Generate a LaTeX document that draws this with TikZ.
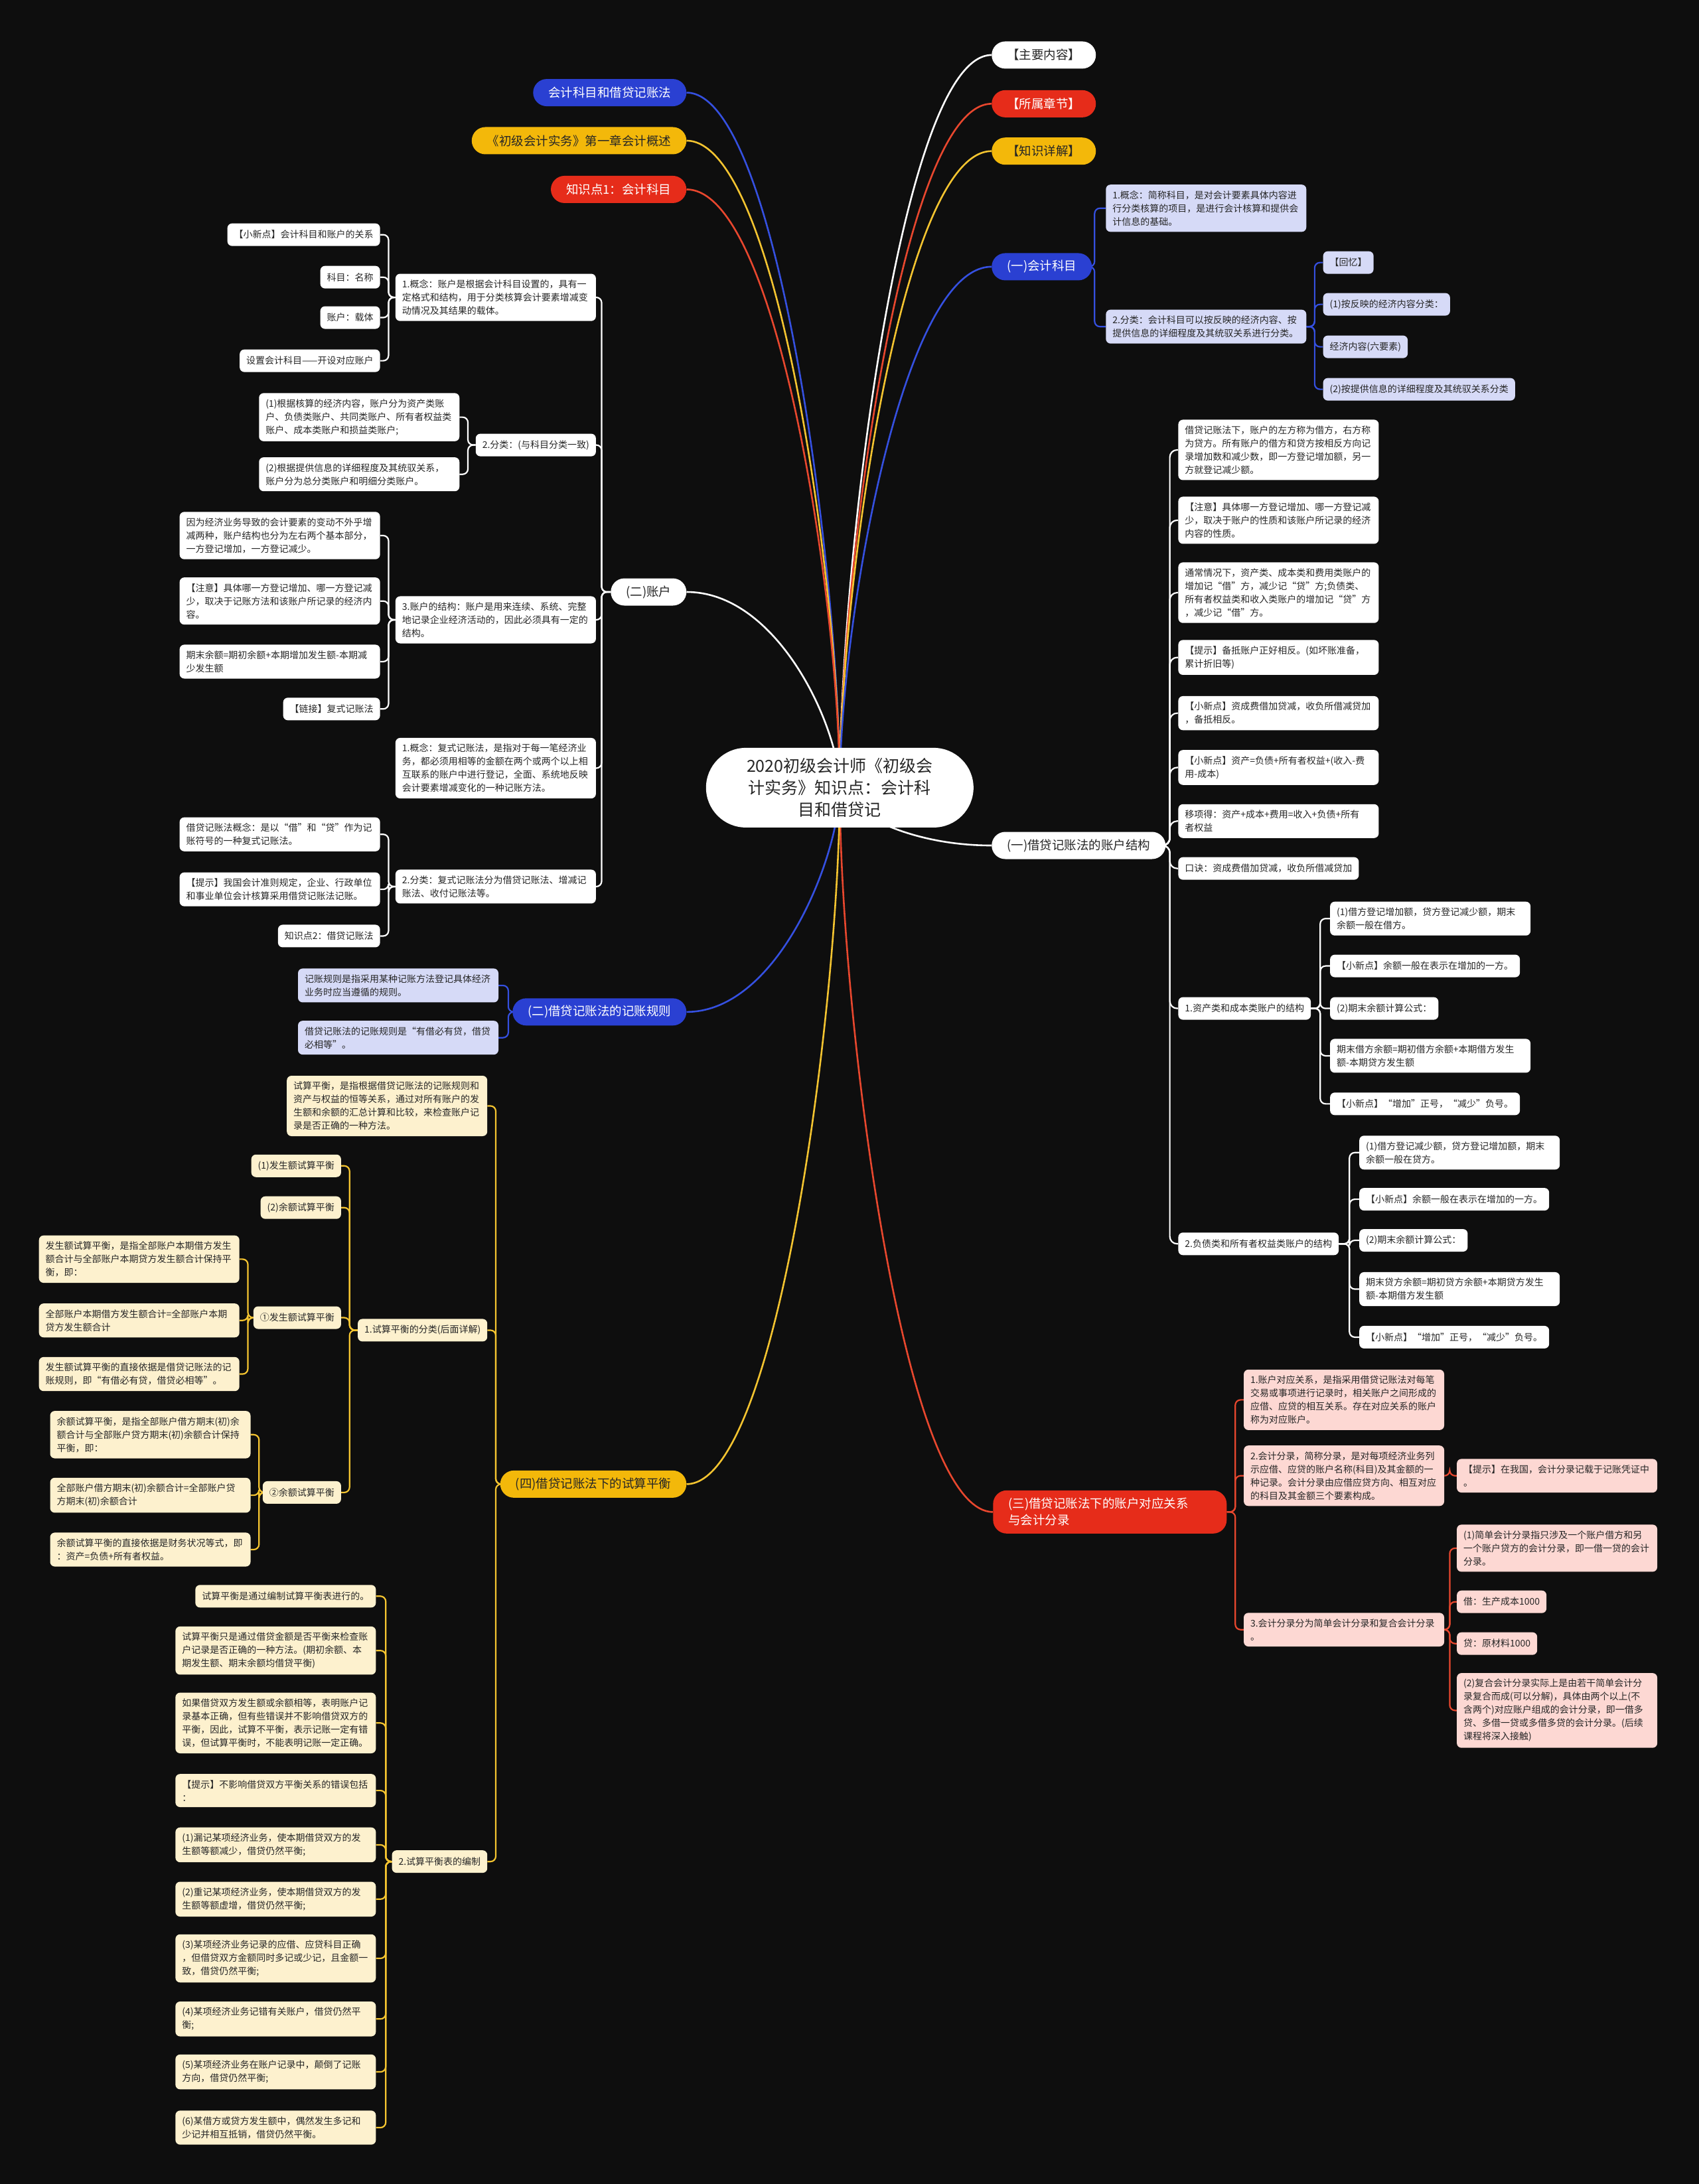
\documentclass[tikz,border=0pt]{standalone}
\usepackage{fontspec}
\setmainfont{Noto Sans CJK SC}
\usetikzlibrary{calc}
\pgfdeclarelayer{background}
\pgfsetlayers{background,main}
\definecolor{bgc}{HTML}{0E0E0E}
\definecolor{txt}{HTML}{262626}
\definecolor{lav}{HTML}{D6DAF7}
\definecolor{pinkf}{HTML}{FDD8D3}
\definecolor{cream}{HTML}{FDF1CE}
\definecolor{bluep}{HTML}{2A40D2}
\definecolor{redp}{HTML}{E62C1A}
\definecolor{yelp}{HTML}{F3B80A}
\definecolor{bluel}{HTML}{3550E0}
\definecolor{redl}{HTML}{E8472E}
\definecolor{yell}{HTML}{F4C430}
\newcommand\mlink[2]{\draw[mline,#1] (C.center) .. controls ($(C.center)!0.3!(C.center|-#2)$) and ($(#2)!0.6!(C.center|-#2)$) .. (#2);}
\newcommand\linkR[4]{\draw[cline,#1] (#2.east) -- (#2.east -| #3) |- (#4.west);}
\newcommand\linkL[4]{\draw[cline,#1] (#2.west) -- (#2.west -| #3) |- (#4.east);}
\tikzset{
  nbox/.style={font=\fontsize{14}{20}\selectfont, text=txt, rounded corners=7pt, inner xsep=10pt, inner ysep=9pt, minimum height=34pt, align=left},
  wb/.style={nbox, fill=white},
  lb/.style={nbox, fill=lav},
  pb/.style={nbox, fill=pinkf},
  yb/.style={nbox, fill=cream},
  tw/.style={text width=282pt},
  pill/.style={font=\fontsize{18.5}{25}\selectfont, rounded corners=20.5pt, minimum height=41pt, inner xsep=23pt, inner ysep=3pt, align=left},
  ae/.style={anchor=east},
  aw/.style={anchor=west},
  mline/.style={line width=2.6pt},
  cline/.style={line width=2.2pt, rounded corners=8pt},
  rootnode/.style={fill=white, text=txt, font=\fontsize{25}{33}\selectfont, align=center, minimum width=403pt, minimum height=120pt, rounded corners=60pt},
}
\begin{document}
\begin{tikzpicture}[x=2.09836pt, y=-2.09885pt]
\useasboundingbox (0,0) rectangle (1220,1568);
% root
\node[rootnode] (C) at (603,565.5) {2020初级会计师《初级会\\计实务》知识点：会计科\\目和借贷记};
% main branches
\node[pill, ae, fill=bluep, text=white] (B1) at (493,66.5) {会计科目和借贷记账法};
\node[pill, ae, fill=yelp, text=txt] (B2) at (493,101) {《初级会计实务》第一章会计概述};
\node[pill, ae, fill=redp, text=white] (B3) at (493,136) {知识点1：会计科目};
\node[pill, aw, fill=white, text=txt] (R1) at (712,39.5) {【主要内容】};
\node[pill, aw, fill=redp, text=white] (R2) at (712,74.5) {【所属章节】};
\node[pill, aw, fill=yelp, text=txt] (R3) at (712,108.5) {【知识详解】};
\node[pill, aw, fill=bluep, text=white] (R4) at (712,191.5) {(一)会计科目};
\node[pill, aw, fill=white, text=txt] (R5) at (712,607) {(一)借贷记账法的账户结构};
\node[pill, aw, fill=redp, text=white, text width=306pt, minimum height=65pt] (R6) at (713,1085.5) {(三)借贷记账法下的账户对应关系\\与会计分录};
\node[pill, ae, fill=white, text=txt] (L1) at (493,425) {(二)账户};
\node[pill, ae, fill=bluep, text=white] (L2) at (493,726.5) {(二)借贷记账法的记账规则};
\node[pill, ae, fill=yelp, text=txt] (L3) at (493,1065.5) {(四)借贷记账法下的试算平衡};
% bars
\coordinate (xR4) at (786,0);
\coordinate (xR4b) at (944,0);
\coordinate (xR5) at (840,0);
\coordinate (xR5i) at (948,0);
\coordinate (xR5j) at (969,0);
\coordinate (xR6) at (887,0);
\coordinate (xR6b) at (1041,0);
\coordinate (xL1) at (432,0);
\coordinate (xL1a) at (279,0);
\coordinate (xL1b) at (336,0);
\coordinate (xL2) at (365,0);
\coordinate (xL3) at (356,0);
\coordinate (xL3b) at (251,0);
\coordinate (xX) at (178,0);
\coordinate (xY) at (186,0);
\coordinate (xL3c) at (277,0);
% R4
\node[lb, tw, aw] (r4a) at (794,149.5) {1.概念：简称科目，是对会计要素具体内容进\\行分类核算的项目，是进行会计核算和提供会\\计信息的基础。};
\node[lb, tw, aw] (r4b) at (794,234.5) {2.分类：会计科目可以按反映的经济内容、按\\提供信息的详细程度及其统驭关系进行分类。};
\node[lb, aw] (r4b1) at (950,188.5) {【回忆】};
\node[lb, aw] (r4b2) at (950,218.5) {(1)按反映的经济内容分类：};
\node[lb, aw] (r4b3) at (950,249) {经济内容(六要素)};
\node[lb, aw] (r4b4) at (950,279.5) {(2)按提供信息的详细程度及其统驭关系分类};
% R5
\node[wb, tw, aw] (r5a) at (846,323) {借贷记账法下，账户的左方称为借方，右方称\\为贷方。所有账户的借方和贷方按相反方向记\\录增加数和减少数，即一方登记增加额，另一\\方就登记减少额。};
\node[wb, tw, aw] (r5b) at (846,373.5) {【注意】具体哪一方登记增加、哪一方登记减\\少，取决于账户的性质和该账户所记录的经济\\内容的性质。};
\node[wb, tw, aw] (r5c) at (846,425.5) {通常情况下，资产类、成本类和费用类账户的\\增加记“借”方，减少记“贷”方;负债类、\\所有者权益类和收入类账户的增加记“贷”方\\，减少记“借”方。};
\node[wb, tw, aw] (r5d) at (846,472) {【提示】备抵账户正好相反。(如坏账准备，\\累计折旧等)};
\node[wb, tw, aw] (r5e) at (846,512) {【小新点】资成费借加贷减，收负所借减贷加\\，备抵相反。};
\node[wb, tw, aw] (r5f) at (846,551) {【小新点】资产=负债+所有者权益+(收入-费\\用-成本)};
\node[wb, tw, aw] (r5g) at (846,589.5) {移项得：资产+成本+费用=收入+负债+所有\\者权益};
\node[wb, aw] (r5h) at (846,623.5) {口诀：资成费借加贷减，收负所借减贷加};
\node[wb, aw] (r5i) at (846,724) {1.资产类和成本类账户的结构};
\node[wb, aw] (r5j) at (846,893) {2.负债类和所有者权益类账户的结构};
\node[wb, tw, aw] (r5i1) at (955,659.5) {(1)借方登记增加额，贷方登记减少额，期末\\余额一般在借方。};
\node[wb, aw] (r5i2) at (955,693.5) {【小新点】余额一般在表示在增加的一方。};
\node[wb, aw] (r5i3) at (955,724) {(2)期末余额计算公式：};
\node[wb, tw, aw] (r5i4) at (955,758) {期末借方余额=期初借方余额+本期借方发生\\额-本期贷方发生额};
\node[wb, aw] (r5i5) at (955,792.5) {【小新点】“增加”正号，“减少”负号。};
\node[wb, tw, aw] (r5j1) at (976,827.5) {(1)借方登记减少额，贷方登记增加额，期末\\余额一般在贷方。};
\node[wb, aw] (r5j2) at (976,861) {【小新点】余额一般在表示在增加的一方。};
\node[wb, aw] (r5j3) at (976,890.5) {(2)期末余额计算公式：};
\node[wb, tw, aw] (r5j4) at (976,925.5) {期末贷方余额=期初贷方余额+本期贷方发生\\额-本期借方发生额};
\node[wb, aw] (r5j5) at (976,960) {【小新点】“增加”正号，“减少”负号。};
% R6
\node[pb, tw, aw] (r6a) at (893,1005) {1.账户对应关系，是指采用借贷记账法对每笔\\交易或事项进行记录时，相关账户之间形成的\\应借、应贷的相互关系。存在对应关系的账户\\称为对应账户。};
\node[pb, tw, aw] (r6b) at (893,1059.5) {2.会计分录，简称分录，是对每项经济业务列\\示应借、应贷的账户名称(科目)及其金额的一\\种记录。会计分录由应借应贷方向、相互对应\\的科目及其金额三个要素构成。};
\node[pb, tw, aw] (r6b1) at (1046,1059.5) {【提示】在我国，会计分录记载于记账凭证中\\。};
\node[pb, tw, aw] (r6c) at (893,1170) {3.会计分录分为简单会计分录和复合会计分录\\。};
\node[pb, tw, aw] (r6c1) at (1046,1111.5) {(1)简单会计分录指只涉及一个账户借方和另\\一个账户贷方的会计分录，即一借一贷的会计\\分录。};
\node[pb, aw] (r6c2) at (1046,1150) {借：生产成本1000};
\node[pb, aw] (r6c3) at (1046,1180) {贷：原材料1000};
\node[pb, tw, aw] (r6c4) at (1046,1228) {(2)复合会计分录实际上是由若干简单会计分\\录复合而成(可以分解)，具体由两个以上(不\\含两个)对应账户组成的会计分录，即一借多\\贷、多借一贷或多借多贷的会计分录。(后续\\课程将深入接触)};
% L1
\node[wb, tw, ae] (l1a) at (428,213.5) {1.概念：账户是根据会计科目设置的，具有一\\定格式和结构，用于分类核算会计要素增减变\\动情况及其结果的载体。};
\node[wb, ae] (l1b) at (428,319.5) {2.分类：(与科目分类一致)};
\node[wb, tw, ae] (l1c) at (428,445) {3.账户的结构：账户是用来连续、系统、完整\\地记录企业经济活动的，因此必须具有一定的\\结构。};
\node[wb, tw, ae] (l1d) at (428,551.5) {1.概念：复式记账法，是指对于每一笔经济业\\务，都必须用相等的金额在两个或两个以上相\\互联系的账户中进行登记，全面、系统地反映\\会计要素增减变化的一种记账方法。};
\node[wb, tw, ae] (l1e) at (428,636.5) {2.分类：复式记账法分为借贷记账法、增减记\\账法、收付记账法等。};
\node[wb, ae] (l1a1) at (273,168.5) {【小新点】会计科目和账户的关系};
\node[wb, ae] (l1a2) at (273,199) {科目：名称};
\node[wb, ae] (l1a3) at (273,228) {账户：载体};
\node[wb, ae] (l1a4) at (273,259) {设置会计科目——开设对应账户};
\node[wb, tw, ae] (l1b1) at (330,299.5) {(1)根据核算的经济内容，账户分为资产类账\\户、负债类账户、共同类账户、所有者权益类\\账户、成本类账户和损益类账户;};
\node[wb, tw, ae] (l1b2) at (330,340.5) {(2)根据提供信息的详细程度及其统驭关系，\\账户分为总分类账户和明细分类账户。};
\node[wb, tw, ae] (l1c1) at (273,384.5) {因为经济业务导致的会计要素的变动不外乎增\\减两种，账户结构也分为左右两个基本部分，\\一方登记增加，一方登记减少。};
\node[wb, tw, ae] (l1c2) at (273,431.5) {【注意】具体哪一方登记增加、哪一方登记减\\少，取决于记账方法和该账户所记录的经济内\\容。};
\node[wb, tw, ae] (l1c3) at (273,475) {期末余额=期初余额+本期增加发生额-本期减\\少发生额};
\node[wb, ae] (l1c4) at (273,509) {【链接】复式记账法};
\node[wb, tw, ae] (l1e1) at (273,599) {借贷记账法概念：是以“借”和“贷”作为记\\账符号的一种复式记账法。};
\node[wb, tw, ae] (l1e2) at (273,638.5) {【提示】我国会计准则规定，企业、行政单位\\和事业单位会计核算采用借贷记账法记账。};
\node[wb, ae] (l1e3) at (273,672) {知识点2：借贷记账法};
% L2
\node[lb, tw, ae] (l2a) at (358,707.5) {记账规则是指采用某种记账方法登记具体经济\\业务时应当遵循的规则。};
\node[lb, tw, ae] (l2b) at (358,745) {借贷记账法的记账规则是“有借必有贷，借贷\\必相等”。};
% L3
\node[yb, tw, ae] (l3a) at (350,794) {试算平衡，是指根据借贷记账法的记账规则和\\资产与权益的恒等关系，通过对所有账户的发\\生额和余额的汇总计算和比较，来检查账户记\\录是否正确的一种方法。};
\node[yb, ae] (l3b) at (350,955) {1.试算平衡的分类(后面详解)};
\node[yb, ae] (l3c) at (350,1336.5) {2.试算平衡表的编制};
\node[yb, ae] (l3b1) at (245,837) {(1)发生额试算平衡};
\node[yb, ae] (l3b2) at (245,867) {(2)余额试算平衡};
\node[yb, ae] (l3b3) at (245,946) {①发生额试算平衡};
\node[yb, ae] (l3b4) at (245,1071.5) {②余额试算平衡};
\node[yb, tw, ae] (x1) at (172,904) {发生额试算平衡，是指全部账户本期借方发生\\额合计与全部账户本期贷方发生额合计保持平\\衡，即：};
\node[yb, tw, ae] (x2) at (172,948) {全部账户本期借方发生额合计=全部账户本期\\贷方发生额合计};
\node[yb, tw, ae] (x3) at (172,986.5) {发生额试算平衡的直接依据是借贷记账法的记\\账规则，即“有借必有贷，借贷必相等”。};
\node[yb, tw, ae] (y1) at (180,1030) {余额试算平衡，是指全部账户借方期末(初)余\\额合计与全部账户贷方期末(初)余额合计保持\\平衡，即：};
\node[yb, tw, ae] (y2) at (180,1073.5) {全部账户借方期末(初)余额合计=全部账户贷\\方期末(初)余额合计};
\node[yb, tw, ae] (y3) at (180,1112.5) {余额试算平衡的直接依据是财务状况等式，即\\：资产=负债+所有者权益。};
\node[yb, ae] (z1) at (270,1146) {试算平衡是通过编制试算平衡表进行的。};
\node[yb, tw, ae] (z2) at (270,1185) {试算平衡只是通过借贷金额是否平衡来检查账\\户记录是否正确的一种方法。(期初余额、本\\期发生额、期末余额均借贷平衡)};
\node[yb, tw, ae] (z3) at (270,1237) {如果借贷双方发生额或余额相等，表明账户记\\录基本正确，但有些错误并不影响借贷双方的\\平衡，因此，试算不平衡，表示记账一定有错\\误，但试算平衡时，不能表明记账一定正确。};
\node[yb, tw, ae] (z4) at (270,1285.5) {【提示】不影响借贷双方平衡关系的错误包括\\：};
\node[yb, tw, ae] (z5) at (270,1324.5) {(1)漏记某项经济业务，使本期借贷双方的发\\生额等额减少，借贷仍然平衡;};
\node[yb, tw, ae] (z6) at (270,1363.5) {(2)重记某项经济业务，使本期借贷双方的发\\生额等额虚增，借贷仍然平衡;};
\node[yb, tw, ae] (z7) at (270,1406) {(3)某项经济业务记录的应借、应贷科目正确\\，但借贷双方金额同时多记或少记，且金额一\\致，借贷仍然平衡;};
\node[yb, tw, ae] (z8) at (270,1449.5) {(4)某项经济业务记错有关账户，借贷仍然平\\衡;};
\node[yb, tw, ae] (z9) at (270,1487.5) {(5)某项经济业务在账户记录中，颠倒了记账\\方向，借贷仍然平衡;};
\node[yb, tw, ae] (z10) at (270,1527.5) {(6)某借方或贷方发生额中，偶然发生多记和\\少记并相互抵销，借贷仍然平衡。};
\begin{pgfonlayer}{background}
\fill[bgc] (0,0) rectangle (1220,1568);
% main links
\mlink{bluel}{B1.east}
\mlink{yell}{B2.east}
\mlink{redl}{B3.east}
\mlink{white}{R1.west}
\mlink{redl}{R2.west}
\mlink{yell}{R3.west}
\mlink{bluel}{R4.west}
\mlink{white}{R5.west}
\mlink{redl}{R6.west}
\mlink{white}{L1.east}
\mlink{bluel}{L2.east}
\mlink{yell}{L3.east}
% R4
\foreach \c in {r4a,r4b} {\linkR{bluel}{R4}{xR4}{\c}}
\foreach \c in {r4b1,r4b2,r4b3,r4b4} {\linkR{bluel}{r4b}{xR4b}{\c}}
% R5
\foreach \c in {r5a,r5b,r5c,r5d,r5e,r5f,r5g,r5h,r5i,r5j} {\linkR{white,rounded corners=11pt}{R5}{xR5}{\c}}
\foreach \c in {r5i1,r5i2,r5i3,r5i4,r5i5} {\linkR{white}{r5i}{xR5i}{\c}}
\foreach \c in {r5j1,r5j2,r5j3,r5j4,r5j5} {\linkR{white}{r5j}{xR5j}{\c}}
% R6
\foreach \c in {r6a,r6b,r6c} {\linkR{redl}{R6}{xR6}{\c}}
\linkR{redl}{r6b}{xR6b}{r6b1}
\foreach \c in {r6c1,r6c2,r6c3,r6c4} {\linkR{redl}{r6c}{xR6b}{\c}}
% L1
\foreach \c in {l1a,l1b,l1c,l1d,l1e} {\linkL{white}{L1}{xL1}{\c}}
\foreach \c in {l1a1,l1a2,l1a3,l1a4} {\linkL{white}{l1a}{xL1a}{\c}}
\foreach \c in {l1b1,l1b2} {\linkL{white}{l1b}{xL1b}{\c}}
\foreach \c in {l1c1,l1c2,l1c3,l1c4} {\linkL{white}{l1c}{xL1a}{\c}}
\foreach \c in {l1e1,l1e2,l1e3} {\linkL{white}{l1e}{xL1a}{\c}}
% L2
\foreach \c in {l2a,l2b} {\linkL{bluel}{L2}{xL2}{\c}}
% L3
\foreach \c in {l3a,l3b,l3c} {\linkL{yell}{L3}{xL3}{\c}}
\foreach \c in {l3b1,l3b2,l3b3,l3b4} {\linkL{yell}{l3b}{xL3b}{\c}}
\foreach \c in {x1,x2,x3} {\linkL{yell}{l3b3}{xX}{\c}}
\foreach \c in {y1,y2,y3} {\linkL{yell}{l3b4}{xY}{\c}}
\foreach \c in {z1,z2,z3,z4,z5,z6,z7,z8,z9,z10} {\linkL{yell}{l3c}{xL3c}{\c}}
\end{pgfonlayer}
\end{tikzpicture}
\end{document}
